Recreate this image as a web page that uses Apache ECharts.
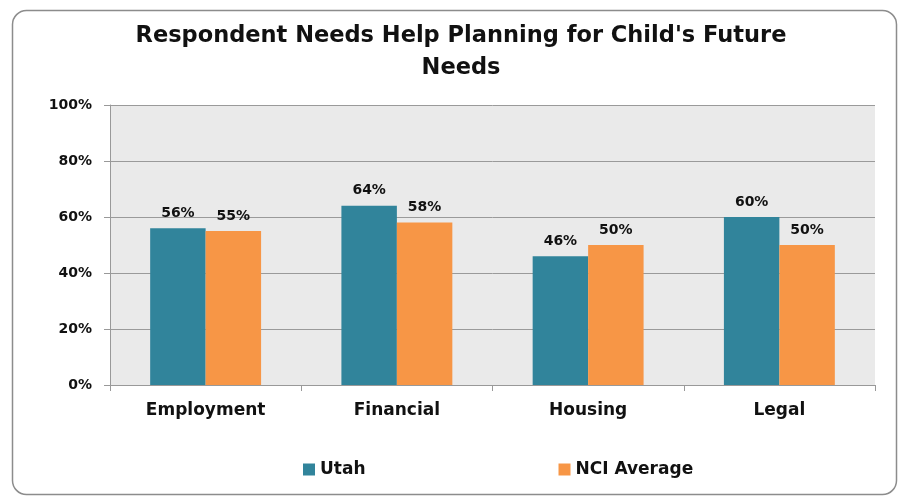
<!DOCTYPE html>
<html><head><meta charset="utf-8">
<script src="https://cdn.jsdelivr.net/npm/echarts@6/dist/echarts.min.js"></script>
<style>html,body{margin:0;padding:0;background:#fff;}#c{width:900px;height:501px;}</style>
</head><body><div id="c"></div>
<script>
var categories = ['Employment', 'Financial', 'Housing', 'Legal'];
var utah = [56, 64, 46, 60];
var nciAverage = [55, 58, 50, 50];
var yTicks = [0, 20, 40, 60, 80, 100];

var chart = echarts.init(document.getElementById('c'));
var font = 'DejaVu Sans';
chart.setOption({
  animation: false,
  backgroundColor: '#fff',
  graphic: [{
    type: 'rect', left: 10, top: 8, shape: { width: 884, height: 484, r: 14 },
    style: { fill: 'none', stroke: '#8c8c8c', lineWidth: 1.5 }, z: -1
  }],
  title: {
    text: "Respondent Needs Help Planning for Child's Future\nNeeds",
    left: 456, top: 15, textAlign: 'center',
    textStyle: { fontFamily: font, fontWeight: 'bold', fontSize: 22.5, lineHeight: 32, color: '#111' }
  },
  legend: {
    data: ['Utah', 'NCI Average'], top: 456, left: 298, itemGap: 193,
    itemWidth: 12, itemHeight: 12, icon: 'rect',
    textStyle: { fontFamily: font, fontWeight: 'bold', fontSize: 17, color: '#111' }
  },
  grid: { left: 110, right: 25, top: 105, bottom: 116, backgroundColor: '#eaeaea', show: true, borderWidth: 0 },
  xAxis: {
    type: 'category', data: categories,
    axisLine: { lineStyle: { color: '#999' } },
    axisTick: { show: true, lineStyle: { color: '#999' }, length: 6 },
    axisLabel: { fontFamily: font, fontWeight: 'bold', fontSize: 17, color: '#111', margin: 17 }
  },
  yAxis: {
    type: 'value', min: 0, max: 100, interval: 20,
    axisLine: { show: true, lineStyle: { color: '#999' } },
    axisTick: { show: true, inside: false, length: 6, lineStyle: { color: '#999' } },
    splitLine: { lineStyle: { color: '#9a9a9a' } },
    axisLabel: { fontFamily: font, fontWeight: 'bold', fontSize: 14, color: '#111', margin: 18,
      formatter: function (v) { return yTicks.indexOf(v) >= 0 ? v + '%' : ''; } }
  },
  series: [
    { name: 'Utah', type: 'bar', data: utah, barGap: '0%', barCategoryGap: '42%',
      itemStyle: { color: '#31849b' },
      label: { show: true, position: 'top', distance: 8, formatter: '{c}%', fontFamily: font, fontWeight: 'bold', fontSize: 14, color: '#111' } },
    { name: 'NCI Average', type: 'bar', data: nciAverage,
      itemStyle: { color: '#f79646' },
      label: { show: true, position: 'top', distance: 8, formatter: '{c}%', fontFamily: font, fontWeight: 'bold', fontSize: 14, color: '#111' } }
  ]
});
</script></body></html>
